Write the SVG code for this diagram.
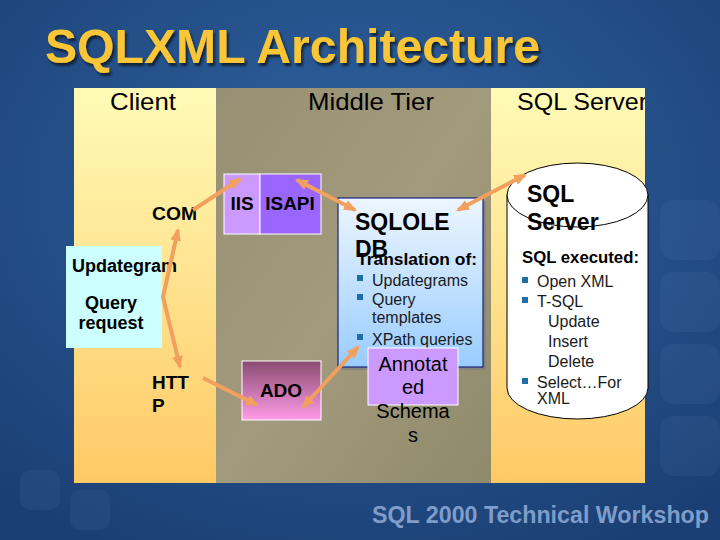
<svg xmlns="http://www.w3.org/2000/svg" width="720" height="540" viewBox="0 0 720 540">
<defs>
<radialGradient id="bg" cx="0.5" cy="0.35" r="0.75">
<stop offset="0" stop-color="#2f63a0"/>
<stop offset="1" stop-color="#1b3f74"/>
</radialGradient>
<linearGradient id="yel" x1="0" y1="0" x2="0" y2="1">
<stop offset="0" stop-color="#fffbb8"/>
<stop offset="1" stop-color="#ffc965"/>
</linearGradient>
<linearGradient id="mid" x1="0" y1="0" x2="1" y2="1">
<stop offset="0" stop-color="#969074"/>
<stop offset="0.5" stop-color="#a29a7c"/>
<stop offset="1" stop-color="#8f8a6c"/>
</linearGradient>
<linearGradient id="ado" x1="0" y1="0" x2="0" y2="1">
<stop offset="0" stop-color="#8a4a70"/>
<stop offset="1" stop-color="#ff9ce8"/>
</linearGradient>
<linearGradient id="ole" x1="0" y1="0" x2="0" y2="1">
<stop offset="0" stop-color="#eef6ff"/>
<stop offset="1" stop-color="#99ccff"/>
</linearGradient>
<filter id="shadow" x="-5%" y="-5%" width="110%" height="130%">
<feDropShadow dx="2" dy="3" stdDeviation="1" flood-color="#0d1a33" flood-opacity="0.9"/>
</filter>
<clipPath id="panelClip"><rect x="74" y="88" width="571" height="395"/></clipPath>
<marker id="ah" viewBox="0 0 12 10" refX="10" refY="5" markerWidth="13" markerHeight="11" markerUnits="userSpaceOnUse" orient="auto-start-reverse">
<path d="M0,0 L12,5 L0,10 Z" fill="#f2a05e"/>
</marker>
<style>
.t{font-family:"Liberation Sans",Arial,sans-serif;fill:#000}
.b{font-weight:bold}
.hd{font-size:24px}
.lbl{font-size:19px;font-weight:bold}
.li{font-size:16px;fill:#1a1a1a}
.bul{fill:#1f6ea8}
.conn{fill:none;stroke:#f2a05e;stroke-width:4;stroke-linejoin:round}
</style>
</defs>

<rect x="0" y="0" width="720" height="540" fill="url(#bg)"/>
<g opacity="0.06" fill="#9fc0ee">
<rect x="660" y="200" width="60" height="60" rx="14"/>
<rect x="660" y="272" width="60" height="60" rx="14"/>
<rect x="660" y="344" width="60" height="60" rx="14"/>
<rect x="660" y="416" width="60" height="60" rx="14"/>
<rect x="20" y="470" width="40" height="40" rx="10"/>
<rect x="70" y="490" width="40" height="40" rx="10"/>
</g>

<text class="t b" x="45" y="63" font-size="48" style="fill:#f9c638" textLength="495" lengthAdjust="spacingAndGlyphs" filter="url(#shadow)">SQLXML Architecture</text>

<g id="panel">
<rect x="74" y="88" width="142" height="395" fill="url(#yel)"/>
<rect x="216" y="88" width="275" height="395" fill="url(#mid)"/>
<rect x="491" y="88" width="154" height="395" fill="url(#yel)"/>
<g clip-path="url(#panelClip)">
<text class="t hd" x="110" y="110" textLength="66" lengthAdjust="spacingAndGlyphs">Client</text>
<text class="t hd" x="308" y="110" textLength="126" lengthAdjust="spacingAndGlyphs">Middle Tier</text>
<text class="t hd" x="517" y="110" textLength="130" lengthAdjust="spacingAndGlyphs">SQL Server</text>
</g>
</g>

<g id="com"><text class="t lbl" x="152" y="220" textLength="45" lengthAdjust="spacingAndGlyphs">COM</text></g>

<g id="request">
<rect x="66" y="246" width="96" height="102" fill="#ccffff"/>
<text class="t b" font-size="18" x="72" y="272" textLength="105" lengthAdjust="spacingAndGlyphs">Updategram</text>
<text class="t b" font-size="18" x="111" y="309" text-anchor="middle">Query</text>
<text class="t b" font-size="18" x="111" y="329" text-anchor="middle">request</text>
</g>

<g id="http">
<text class="t lbl" x="152" y="389">HTT</text>
<text class="t lbl" x="152" y="412">P</text>
</g>

<g id="iis">
<rect x="224" y="174" width="36" height="60" fill="#cc99ff" stroke="#fff" stroke-width="1"/>
<text class="t lbl" x="242" y="210" text-anchor="middle">IIS</text>
</g>
<g id="isapi">
<rect x="260" y="174" width="61" height="60" fill="#9966ff" stroke="#fff" stroke-width="1"/>
<text class="t lbl" x="290" y="210" text-anchor="middle">ISAPI</text>
</g>

<g id="ado">
<rect x="242" y="361" width="79" height="59" fill="url(#ado)" stroke="#fff" stroke-width="1"/>
<text class="t lbl" x="281" y="397" text-anchor="middle">ADO</text>
</g>

<g id="sqloledb">
<rect x="341" y="201" width="145" height="169" fill="#7f7f7f" opacity="0.7"/>
<rect x="338" y="198" width="145" height="169" fill="url(#ole)" stroke="#1a237e" stroke-width="1.2"/>
<text class="t b" font-size="23" x="355" y="230">SQLOLE</text>
<text class="t b" font-size="23" x="355" y="257">DB</text>
<text class="t b" font-size="17" x="357" y="265" textLength="120" lengthAdjust="spacingAndGlyphs">Translation of:</text>
<rect class="bul" x="357" y="275" width="6" height="6"/>
<text class="t li" x="372" y="286">Updategrams</text>
<rect class="bul" x="357" y="294" width="6" height="6"/>
<text class="t li" x="372" y="305">Query</text>
<text class="t li" x="372" y="323">templates</text>
<rect class="bul" x="357" y="334" width="6" height="6"/>
<text class="t li" x="372" y="345">XPath queries</text>
</g>

<g id="schemas">
<rect x="368" y="348" width="90" height="57" fill="#cc99ff" stroke="#fff" stroke-width="1"/>
<text class="t" font-size="20" x="413" y="371" text-anchor="middle">Annotat</text>
<text class="t" font-size="20" x="413" y="394" text-anchor="middle">ed</text>
<text class="t" font-size="20" x="413" y="418" text-anchor="middle">Schema</text>
<text class="t" font-size="20" x="413" y="442" text-anchor="middle">s</text>
</g>

<g id="sqlserver">
<path d="M507,195 L507,388 A70.5,31 0 0 0 648,388 L648,195 Z" fill="#fff" stroke="#000" stroke-width="1"/>
<ellipse cx="577.5" cy="195" rx="70.5" ry="32" fill="#fff"/>
<text class="t b" font-size="23" x="527" y="202">SQL</text>
<text class="t b" font-size="23" x="527" y="230">Server</text>
<ellipse cx="577.5" cy="195" rx="70.5" ry="32" fill="none" stroke="#000" stroke-width="1"/>
<text class="t b" font-size="17" x="522" y="263" textLength="117" lengthAdjust="spacingAndGlyphs">SQL executed:</text>
<rect class="bul" x="522" y="277" width="6" height="6"/>
<text class="t li" x="537" y="287">Open XML</text>
<rect class="bul" x="522" y="297" width="6" height="6"/>
<text class="t li" x="537" y="307">T-SQL</text>
<text class="t li" x="548" y="327">Update</text>
<text class="t li" x="548" y="347">Insert</text>
<text class="t li" x="548" y="367">Delete</text>
<rect class="bul" x="522" y="378" width="6" height="6"/>
<text class="t li" x="537" y="388">Select…For</text>
<text class="t li" x="537" y="404">XML</text>
</g>

<g id="connectors">
<line class="conn" x1="193" y1="210" x2="240" y2="179" marker-end="url(#ah)"/>
<polyline class="conn" points="178,230 163,297 180,367" marker-start="url(#ah)" marker-end="url(#ah)"/>
<line class="conn" x1="203" y1="378" x2="257" y2="405" marker-end="url(#ah)"/>
<line class="conn" x1="297" y1="180" x2="355" y2="210" marker-start="url(#ah)" marker-end="url(#ah)"/>
<line class="conn" x1="303" y1="407" x2="358" y2="347" marker-start="url(#ah)" marker-end="url(#ah)"/>
<line class="conn" x1="458" y1="210" x2="525" y2="175" marker-start="url(#ah)" marker-end="url(#ah)"/>
</g>

<text class="t b" x="372" y="523" font-size="23" style="fill:#7f9dca" textLength="337" lengthAdjust="spacingAndGlyphs">SQL 2000 Technical Workshop</text>
</svg>
